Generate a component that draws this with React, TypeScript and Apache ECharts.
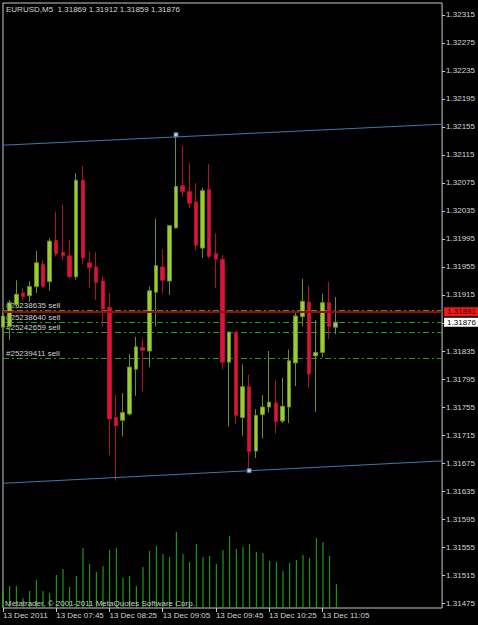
import React, { useEffect, useRef } from "react";
import * as echarts from "echarts";

const times = [
  "07:05", "07:10", "07:15", "07:20", "07:25", "07:30", "07:35", "07:40", "07:45", "07:50", "07:55",
  "08:00", "08:05", "08:10", "08:15", "08:20", "08:25", "08:30", "08:35", "08:40", "08:45", "08:50", "08:55",
  "09:00", "09:05", "09:10", "09:15", "09:20", "09:25", "09:30", "09:35", "09:40", "09:45", "09:50", "09:55",
  "10:00", "10:05", "10:10", "10:15", "10:20", "10:25", "10:30", "10:35", "10:40", "10:45", "10:50", "10:55",
  "11:00", "11:05", "11:10", "11:15",
];
const futureSlots = 16;

const opens = [
  1.31869, 1.3187, 1.31901, 1.31918, 1.31914, 1.31927, 1.31959, 1.31934, 1.31993, 1.31976,
  1.31971, 1.31941, 1.32079, 1.31961, 1.31955, 1.31935, 1.31897, 1.3174, 1.31736, 1.31745,
  1.31809, 1.3184, 1.31835, 1.31919, 1.31955, 1.31935, 1.32011, 1.32071, 1.32063, 1.32048,
  1.31982, 1.32066, 1.31974, 1.31966, 1.31819, 1.31862, 1.3174, 1.31784, 1.31692, 1.31744,
  1.31755, 1.31761, 1.31735, 1.31755, 1.31818, 1.31884, 1.31905, 1.31828, 1.31833, 1.31904,
  1.31869,
];
const closes = [
  1.31885, 1.31904, 1.31916, 1.31913, 1.31927, 1.31961, 1.31927, 1.31992, 1.31974, 1.31971,
  1.31941, 1.32079, 1.31968, 1.31954, 1.31933, 1.31895, 1.31738, 1.31728, 1.31747, 1.31812,
  1.31841, 1.31836, 1.31921, 1.31957, 1.31936, 1.32014, 1.3207, 1.32063, 1.32046, 1.31986,
  1.32064, 1.3197, 1.31966, 1.31819, 1.31862, 1.31743, 1.31784, 1.31691, 1.31743, 1.31755,
  1.31762, 1.31734, 1.31756, 1.31821, 1.31885, 1.31906, 1.31802, 1.31833, 1.31904, 1.3187,
  1.31876,
];
const highs = [
  1.31891, 1.31908, 1.31936, 1.31924, 1.31935, 1.31978, 1.31965, 1.31996, 1.32034, 1.32044,
  1.31994, 1.32089, 1.32099, 1.31977, 1.31976, 1.31942, 1.31918, 1.31772, 1.31775, 1.31831,
  1.31855, 1.31853, 1.31927, 1.32024, 1.3198, 1.32015, 1.32144, 1.32128, 1.32104, 1.32075,
  1.32068, 1.32102, 1.32003, 1.31972, 1.31863, 1.31863, 1.31816, 1.31801, 1.31752, 1.31772,
  1.31835, 1.31794, 1.31797, 1.31837, 1.3189, 1.31938, 1.31928, 1.31879, 1.31917, 1.31934,
  1.31912,
];
const lows = [
  1.31836, 1.31851, 1.31896, 1.31908, 1.31905, 1.31918, 1.31925, 1.31921, 1.3197, 1.31965,
  1.31939, 1.31937, 1.31959, 1.31925, 1.31908, 1.3187, 1.31686, 1.3165, 1.31713, 1.31743,
  1.31771, 1.31777, 1.31812, 1.3187, 1.31917, 1.31915, 1.3201, 1.32055, 1.32039, 1.31979,
  1.31968, 1.31967, 1.31925, 1.31809, 1.31727, 1.31731, 1.31714, 1.31665, 1.31682, 1.3171,
  1.31747, 1.31717, 1.31732, 1.31732, 1.31785, 1.3187, 1.31782, 1.31748, 1.31826, 1.31852,
  1.31859,
];
const volumes = [
  30, 44, 44, 20, 34, 56, 34, 30, 66, 78,
  42, 64, 120, 88, 72, 84, 116, 120, 60, 64,
  44, 82, 114, 124, 108, 102, 152, 108, 92, 128,
  102, 104, 88, 116, 144, 118, 122, 128, 112, 110,
  94, 92, 74, 90, 96, 106, 100, 140, 132, 104,
  48,
];

const priceTicks = [
  1.31475, 1.31515, 1.31555, 1.31595, 1.31635, 1.31675, 1.31715, 1.31755, 1.31795, 1.31835, 1.31875,
  1.31915, 1.31955, 1.31995, 1.32035, 1.32075, 1.32115, 1.32155, 1.32195, 1.32235, 1.32275, 1.32315,
];
const priceMin = 1.3146786;
const priceMax = 1.3233214;

const trendTop = [1.32129, 1.32159];
const trendBottom = [1.31646, 1.31678];
const trendAnchors = [
  [26, 1.32144],
  [37, 1.31664],
];

const askPrice = 1.31891;
const bidPrice = 1.31876;
const orderLabels = ["#25238635 sell", "#25238640 sell", "#25242659 sell", "#25239411 sell"];
const orderPrices = [1.31893, 1.31876, 1.31862, 1.31824];

const FONT = "'Liberation Sans', Arial, sans-serif";

export default function App() {
  const ref = useRef<HTMLDivElement>(null);

  useEffect(() => {
    if (!ref.current) return;
    const chart = echarts.init(ref.current, null, { renderer: "svg" });

    const cats = [...times, ...Array(futureSlots).fill("")];
    const lastCat = cats.length - 1;
    const candleData = opens.map((o, i) => [o, closes[i], lows[i], highs[i]]);
    const li = times.length - 1;
    const titleText = `EURUSD,M5  ${opens[li].toFixed(5)} ${highs[li].toFixed(5)} ${lows[li].toFixed(5)} ${closes[li].toFixed(5)}`;
    const showTime = (i: number) => i % 8 === 0 && i < times.length;

    const option: any = {
      animation: false,
      backgroundColor: "#000000",
      textStyle: { fontFamily: FONT },
      title: {
        text: titleText,
        left: 6,
        top: 5,
        padding: 0,
        textStyle: { color: "#d4d4d4", fontSize: 8, fontWeight: "normal", fontFamily: FONT },
      },
      graphic: [
        {
          type: "text",
          left: 5,
          top: 599,
          z: 10,
          style: {
            text: "Metatrader, © 2001-2011 MetaQuotes Software Corp.",
            fill: "#c8c8c8",
            fontSize: 8,
            fontFamily: FONT,
          },
        },
      ],
      grid: [
        { left: 3, right: 35, top: 3, bottom: 17, show: true, borderColor: "#c8c8c8", borderWidth: 1 },
        { left: 3, right: 35, top: 508, bottom: 17 },
      ],
      xAxis: [
        {
          type: "category",
          gridIndex: 0,
          data: cats,
          boundaryGap: false,
          axisLine: { show: false },
          splitLine: { show: false },
          axisTick: {
            show: true,
            length: 4,
            interval: (i: number) => showTime(i),
            lineStyle: { color: "#c8c8c8" },
          },
          axisLabel: {
            interval: (i: number) => showTime(i),
            align: "left",
            margin: 3,
            color: "#d4d4d4",
            fontSize: 8,
            fontFamily: FONT,
            formatter: (v: string, i: number) => (i === 0 ? "13 Dec 2011" : "13 Dec " + v),
          },
        },
        { type: "category", gridIndex: 1, data: cats, boundaryGap: false, show: false },
      ],
      yAxis: [
        {
          type: "value",
          gridIndex: 0,
          position: "right",
          min: priceMin,
          max: priceMax,
          splitLine: { show: false },
          axisLine: { show: false },
          axisTick: { show: true, length: 3, customValues: priceTicks, lineStyle: { color: "#c8c8c8" } },
          axisLabel: {
            customValues: priceTicks,
            formatter: (v: number) => v.toFixed(5),
            color: "#d4d4d4",
            fontSize: 8,
            fontFamily: FONT,
            margin: 4,
          },
        },
        { type: "value", gridIndex: 1, min: 0, max: 200, show: false },
      ],
      series: [
        {
          name: "volume",
          type: "bar",
          xAxisIndex: 1,
          yAxisIndex: 1,
          data: volumes,
          barWidth: 1,
          itemStyle: { color: "#1db31d" },
          silent: true,
        },
        {
          name: "trendTop",
          type: "line",
          data: [
            [0, trendTop[0]],
            [lastCat, trendTop[1]],
          ],
          symbol: "none",
          silent: true,
          lineStyle: { color: "#3c78b4", width: 1 },
          markLine: {
            silent: true,
            precision: 5,
            symbol: ["none", "none"],
            z: 1,
            lineStyle: { color: "#1ea01e", type: [6, 3, 2, 3], width: 1 },
            label: {
              show: true,
              position: "insideStartTop",
              distance: [3, 1],
              color: "#d0d0d0",
              fontSize: 8,
              fontFamily: FONT,
            },
            data: orderPrices.map((p, i) => ({ yAxis: p, label: { formatter: orderLabels[i] } })),
          },
        },
        {
          name: "trendBottom",
          type: "line",
          data: [
            [0, trendBottom[0]],
            [lastCat, trendBottom[1]],
          ],
          symbol: "none",
          silent: true,
          lineStyle: { color: "#3c78b4", width: 1 },
        },
        {
          name: "EURUSD",
          type: "candlestick",
          data: candleData,
          barWidth: 4,
          itemStyle: {
            color: "#9acd32",
            color0: "#dc143c",
            borderColor: "#6b8e23",
            borderColor0: "#b0102c",
            borderWidth: 1,
          },
          markLine: {
            silent: true,
            precision: 5,
            symbol: ["none", "none"],
            label: {
              show: true,
              position: "end",
              distance: 2,
              fontSize: 8,
              fontFamily: FONT,
              padding: [1, 3, 0, 3],
            },
            data: [
              {
                yAxis: askPrice,
                lineStyle: { color: "#a00808", width: 2, type: "solid" },
                label: { formatter: askPrice.toFixed(5), backgroundColor: "#f01818", color: "#400000" },
              },
              {
                yAxis: bidPrice,
                lineStyle: { color: "rgba(0,0,0,0)", width: 1, type: "solid" },
                label: { formatter: bidPrice.toFixed(5), backgroundColor: "#ffffff", color: "#000000" },
              },
            ],
          },
        },
        {
          name: "anchors",
          type: "scatter",
          data: trendAnchors,
          symbol: "rect",
          symbolSize: 4,
          silent: true,
          z: 6,
          itemStyle: { color: "#e8f4ff", borderColor: "#3c78b4", borderWidth: 1 },
        },
      ],
    };

    chart.setOption(option);
    return () => chart.dispose();
  }, []);

  return (
    <div
      ref={ref}
      style={{ position: "absolute", left: 0, top: 0, width: 478, height: 625, background: "#000" }}
    />
  );
}
